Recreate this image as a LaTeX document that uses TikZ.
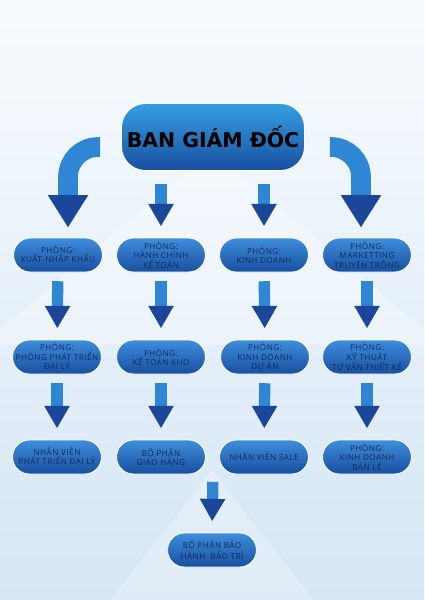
\documentclass[tikz,border=0pt]{standalone}
\usepackage{fontspec}
\setmainfont{Open Sans}
\newfontfamily\titlefont{DejaVu Sans}
\newfontfamily\boxfont[LetterSpace=6]{Open Sans}
\usetikzlibrary{arrows.meta}

\definecolor{boxtop}{HTML}{3E8EDC}
\definecolor{boxbot}{HTML}{184FA0}
\definecolor{boxtext}{HTML}{14285A}
\definecolor{arrowlight}{HTML}{2F86D4}
\definecolor{arrowdark}{HTML}{1B4699}
\definecolor{bgtop}{HTML}{F8FBFE}
\definecolor{bgbot}{HTML}{D5E6F5}

\tikzset{
  dept/.style={rounded corners=0.42cm, minimum width=2.22cm, minimum height=0.85cm,
    top color=boxtop, bottom color=boxbot, draw=white, line width=0.6pt,
    text=boxtext, align=center, inner sep=1pt,
    font=\boxfont\fontsize{5.8}{6.6}\selectfont},
  board/.style={rounded corners=0.6cm, minimum width=4.58cm, minimum height=1.68cm,
    top color=boxtop!85!cyan, bottom color=boxbot, draw=white, line width=0.8pt,
    text=black, font=\titlefont\bfseries\fontsize{14.5}{16}\selectfont},
  smallarrow/.style={arrowlight, line width=8pt,
    -{Triangle[width=17pt,length=16pt,color=arrowdark]},
    shorten <=0.22cm, shorten >=0.28cm},
  bigarrow/.style={arrowlight, line width=14pt, rounded corners=0.75cm,
    -{Triangle[width=27pt,length=23pt,color=arrowdark]}, shorten >=0.25cm}
}

\begin{document}
\begin{tikzpicture}[x=0.025cm,y=-0.025cm]
  \fill[top color=bgtop, bottom color=bgbot] (0,0) rectangle (424,600);
  \fill[white, opacity=0.3] (0,330) -- (212,150) -- (424,330) -- (424,345) -- (0,345) -- cycle;
  \fill[white, opacity=0.25] (110,600) -- (212,470) -- (314,600) -- cycle;

  \node[board] (ban) at (213,137) {BAN GIÁM ĐỐC};

  \node[dept] (xnk)  at (58,255)  {PHÒNG:\\XUẤT-NHẬP KHẨU};
  \node[dept] (hckt) at (161,255) {PHÒNG:\\HÀNH CHÍNH\\KẾ TOÁN};
  \node[dept] (kd)   at (264,255) {PHÒNG:\\KINH DOANH};
  \node[dept] (mtt)  at (367,255) {PHÒNG:\\MARKETTING\\TRUYỀN TRÔNG};

  \node[dept] (ptdl) at (57,357)  {PHÒNG:\\PHÒNG PHÁT TRIỂN\\ĐẠI LÝ};
  \node[dept] (ktk)  at (161,357) {PHÒNG:\\KẾ TOÁN KHO};
  \node[dept] (kdda) at (265,357) {PHÒNG:\\KINH DOANH\\DỰ ÁN};
  \node[dept] (kttk) at (367,357) {PHÒNG:\\KỸ THUẬT\\TƯ VẤN THIẾT KẾ};

  \node[dept] (nvdl) at (57,457)  {NHÂN VIÊN\\PHÁT TRIỂN ĐẠI LÝ};
  \node[dept] (bpgh) at (161,457) {BỘ PHẬN\\GIAO HÀNG};
  \node[dept] (nvs)  at (264,457) {NHÂN VIÊN SALE};
  \node[dept] (kdbl) at (367,457) {PHÒNG:\\KINH DOANH\\BÁN LẺ};

  \node[dept] (bhbt) at (212,550) {BỘ PHẬN BẢO\\HÀNH\ \ BẢO TRÌ};
  \coordinate (r3) at (213,473);

  \draw[bigarrow, shorten <=0.52cm] ([yshift=-0.25cm]ban.west) -| ([xshift=0.25cm]xnk.north);
  \draw[bigarrow, shorten <=0.62cm] ([yshift=-0.25cm]ban.east) -| ([xshift=-0.15cm]mtt.north);
  \draw[smallarrow, shorten <=0.32cm] (hckt.north |- ban.south) -- (hckt.north);
  \draw[smallarrow, shorten <=0.32cm] (kd.north |- ban.south) -- (kd.north);

  \draw[smallarrow] (xnk) -- (ptdl);
  \draw[smallarrow] (hckt) -- (ktk);
  \draw[smallarrow] (kd) -- (kdda);
  \draw[smallarrow] (mtt) -- (kttk);

  \draw[smallarrow] (ptdl) -- (nvdl);
  \draw[smallarrow] (ktk) -- (bpgh);
  \draw[smallarrow] (kdda) -- (nvs);
  \draw[smallarrow] (kttk) -- (kdbl);

  \draw[smallarrow] (r3) -- (bhbt.north);
\end{tikzpicture}
\end{document}
